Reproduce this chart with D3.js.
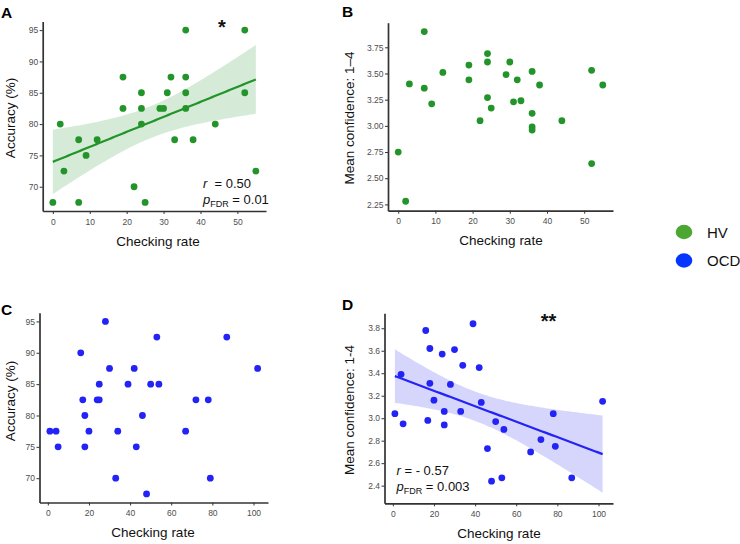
<!DOCTYPE html>
<html>
<head>
<meta charset="utf-8">
<script src="https://cdn.jsdelivr.net/npm/d3@7"></script>
<style>
  body { margin: 0; background: #fff; }
  svg { font-family: "Liberation Sans", Arial, sans-serif; }
</style>
</head>
<body>
<div id="plot"></div>
<script>

// HV group (28 subjects)
var hvRate = [0, 2, 3, 7, 7, 9, 12, 19, 19, 22, 24, 24, 24, 25, 29, 30, 31, 32, 33, 36, 36, 36, 36, 38, 44, 52, 52, 55];
var hvAccuracy = [67.5, 80, 72.5, 77.5, 67.5, 75, 77.5, 87.5, 82.5, 70, 85, 82.5, 80, 67.5, 82.5, 82.5, 85, 87.5, 77.5, 95, 87.5, 85, 82.5, 77.5, 80, 95, 85, 72.5];
var hvConfidence = [2.75, 2.28, 3.40, 3.90, 3.36, 3.21, 3.51, 3.58, 3.44, 3.05, 3.69, 3.61, 3.27, 3.17, 3.49, 3.61, 3.23, 3.44, 3.24, 3.52, 3.12, 2.99, 2.96, 3.39, 3.05, 3.53, 2.64, 3.39];

// OCD group (29 subjects)
var ocdRate = [1, 4, 5, 16, 17, 18, 18, 20, 24, 25, 25, 28, 30, 33, 34, 39, 42, 43, 46, 48, 50, 53, 54, 67, 72, 78, 79, 87, 102];
var ocdAccuracy = [77.5, 77.5, 75, 90, 82.5, 80, 75, 77.5, 82.5, 82.5, 85, 95, 87.5, 70, 77.5, 85, 87.5, 75, 80, 67.5, 85, 92.5, 85, 77.5, 82.5, 82.5, 70, 92.5, 87.5];
var ocdConfidence = [3.04, 3.39, 2.95, 3.78, 2.98, 3.31, 3.62, 3.16, 3.57, 3.06, 2.94, 3.30, 3.61, 3.06, 3.47, 3.84, 3.45, 3.14, 2.73, 2.44, 2.97, 2.47, 2.90, 2.70, 2.81, 3.04, 2.75, 2.47, 3.15];

var hvRateTicks = [0, 10, 20, 30, 40, 50];
var ocdRateTicks = [0, 20, 40, 60, 80, 100];
var accuracyTicks = [70, 75, 80, 85, 90, 95];
var hvConfTicks = [2.25, 2.50, 2.75, 3.00, 3.25, 3.50, 3.75];
var ocdConfTicks = [2.4, 2.6, 2.8, 3.0, 3.2, 3.4, 3.6, 3.8];

var groupNames = ["HV", "OCD"];
var groupColors = ["#4ca632", "#0535ff"];

var green = "#22942a";
var blue = "#2323f5";

var svg = d3.select("#plot")
    .append("svg")
    .attr("width", 740)
    .attr("height", 544);

var panels = [
    {
        letter: "A", lx: 1, ly: 18,
        xs: hvRate, ys: hvAccuracy, color: green,
        xDomain: [-2.75, 57.75], xRange: [42.7, 266],
        yDomain: [66.125, 96.375], yRange: [211, 21.5],
        xTicks: hvRateTicks, yTicks: accuracyTicks, yFmt: d3.format("d"),
        yTitle: "Accuracy (%)", yTitleX: 15, yTitleY: 118,
        xTitleX: 158, xTitleY: 246,
        fit: true, star: "*", starX: 222, starY: 34,
        rText: "r  = 0.50", pText: "0.01", annX: 203, annY: 188
    },
    {
        letter: "B", lx: 342, ly: 17,
        xs: hvRate, ys: hvConfidence, color: green,
        xDomain: [-2.75, 57.75], xRange: [388, 613],
        yDomain: [2.19, 3.985], yRange: [210.7, 22.7],
        xTicks: hvRateTicks, yTicks: hvConfTicks, yFmt: d3.format(".2f"),
        yTitle: "Mean confidence: 1\u20134", yTitleX: 354, yTitleY: 118,
        xTitleX: 501, xTitleY: 245,
        fit: false
    },
    {
        letter: "C", lx: 1, ly: 315,
        xs: ocdRate, ys: ocdAccuracy, color: blue,
        xDomain: [-4.05, 107.05], xRange: [39.5, 268],
        yDomain: [66.125, 96.375], yRange: [502.5, 312.8],
        xTicks: ocdRateTicks, yTicks: accuracyTicks, yFmt: d3.format("d"),
        yTitle: "Accuracy (%)", yTitleX: 15, yTitleY: 401,
        xTitleX: 153, xTitleY: 537,
        fit: false
    },
    {
        letter: "D", lx: 342, ly: 310,
        xs: ocdRate, ys: ocdConfidence, color: blue,
        xDomain: [-4.05, 107.05], xRange: [384.5, 613],
        yDomain: [2.243, 3.933], yRange: [503.3, 313.3],
        xTicks: ocdRateTicks, yTicks: ocdConfTicks, yFmt: d3.format(".1f"),
        yTitle: "Mean confidence: 1-4", yTitleX: 354, yTitleY: 410,
        xTitleX: 499, xTitleY: 538,
        fit: true, star: "**", starX: 548.5, starY: 327.5,
        rText: "r = - 0.57", pText: "0.003", annX: 396.5, annY: 475
    }
];

panels.forEach(p => buildPanel(p));

buildLegend();

function linearFit(xs, ys){

    let n = xs.length;
    let mx = d3.mean(xs);
    let my = d3.mean(ys);
    let sxx = d3.sum(xs, d => (d - mx) * (d - mx));
    let sxy = d3.sum(xs.map((d, i) => (d - mx) * (ys[i] - my)));
    let slope = sxy / sxx;
    let intercept = my - slope * mx;
    let sse = d3.sum(xs.map((d, i) => Math.pow(ys[i] - (intercept + slope * d), 2)));
    let s = Math.sqrt(sse / (n - 2));

    // two-sided 95% t quantile for df = 26 / 27
    let tCrit = n - 2 == 26 ? 2.0555 : 2.0518;

    let x0 = d3.min(xs), x1 = d3.max(xs);
    let pts = d3.range(80).map(i => {

        let x = x0 + (x1 - x0) * i / 79;
        let fit = intercept + slope * x;
        let se = s * Math.sqrt(1 / n + (x - mx) * (x - mx) / sxx);

        return {x: x, y: fit, lo: fit - tCrit * se, hi: fit + tCrit * se};

    });

    return pts;

}

function buildPanel(p){

    var xScale = d3.scaleLinear().domain(p.xDomain).range(p.xRange);
    var yScale = d3.scaleLinear().domain(p.yDomain).range(p.yRange);

    var g = svg.append("g");

    if(p.fit){

        let pts = linearFit(p.xs, p.ys);

        g.append("path")
            .datum(pts)
            .attr("d", d3.area().x(d => xScale(d.x)).y0(d => yScale(d.lo)).y1(d => yScale(d.hi)))
            .style("fill", p.color)
            .style("opacity", 0.19);

    }

    g.append("g")
        .selectAll("circle")
        .data(p.xs.map((d, i) => ({x: d, y: p.ys[i]})))
        .enter()
        .append("circle")
        .attr("cx", d => xScale(d.x))
        .attr("cy", d => yScale(d.y))
        .attr("r", 3.4)
        .style("fill", p.color);

    if(p.fit){

        let pts = linearFit(p.xs, p.ys);

        g.append("path")
            .datum(pts)
            .attr("d", d3.line().x(d => xScale(d.x)).y(d => yScale(d.y)))
            .style("fill", "none")
            .style("stroke", p.color)
            .style("stroke-width", 2.2);

    }

    // axes
    var xAxis = g.append("g")
        .attr("transform", "translate(0," + p.yRange[0] + ")")
        .call(d3.axisBottom(xScale).tickValues(p.xTicks).tickSize(3).tickSizeOuter(0));

    var yAxis = g.append("g")
        .attr("transform", "translate(" + p.xRange[0] + ",0)")
        .call(d3.axisLeft(yScale).tickValues(p.yTicks).tickFormat(p.yFmt).tickSize(3).tickSizeOuter(0));

    [xAxis, yAxis].forEach(a => {

        a.select(".domain").style("stroke", "#333").style("stroke-width", 1.7);
        a.selectAll(".tick line").style("stroke", "#333");
        a.selectAll(".tick text")
            .style("font-family", "'Liberation Sans', Arial, sans-serif")
            .style("font-size", "8.5px")
            .style("fill", "#4d4d4d");

    });

    xAxis.selectAll(".tick text").attr("dy", "0.9em");
    yAxis.selectAll(".tick text").attr("x", -4.5);

    // titles
    g.append("text")
        .attr("x", p.xTitleX)
        .attr("y", p.xTitleY)
        .attr("text-anchor", "middle")
        .style("font-size", "13.5px")
        .style("fill", "#111")
        .text("Checking rate");

    g.append("text")
        .attr("transform", "translate(" + p.yTitleX + "," + p.yTitleY + ") rotate(-90)")
        .attr("text-anchor", "middle")
        .style("font-size", "13.5px")
        .style("fill", "#111")
        .text(p.yTitle);

    g.append("text")
        .attr("x", p.lx)
        .attr("y", p.ly)
        .style("font-size", "15.5px")
        .style("font-weight", "bold")
        .style("fill", "#000")
        .text(p.letter);

    if(p.star){

        g.append("text")
            .attr("x", p.starX)
            .attr("y", p.starY)
            .attr("text-anchor", "middle")
            .style("font-size", "20px")
            .style("font-weight", "bold")
            .style("fill", "#111")
            .text(p.star);

    }

    if(p.rText){

        let t1 = g.append("text")
            .attr("x", p.annX)
            .attr("y", p.annY)
            .attr("xml:space", "preserve")
            .style("white-space", "pre")
            .style("font-size", "13px")
            .style("fill", "#111");

        t1.append("tspan").style("font-style", "italic").text("r");
        t1.append("tspan").text(p.rText.slice(1));

        let t2 = g.append("text")
            .attr("x", p.annX)
            .attr("y", p.annY + 15.5)
            .attr("xml:space", "preserve")
            .style("white-space", "pre")
            .style("font-size", "13px")
            .style("fill", "#111");

        t2.append("tspan").style("font-style", "italic").text("p");
        t2.append("tspan").attr("dy", 3).style("font-size", "9px").text("FDR");
        t2.append("tspan").attr("dy", -3).text(" = " + p.pText);

    }

}

function buildLegend(){

    var lg = svg.append("g");

    groupNames.forEach((name, i) => {

        lg.append("ellipse")
            .attr("cx", 684)
            .attr("cy", 232 + i * 28.5)
            .attr("rx", 8.3)
            .attr("ry", 7.2)
            .style("fill", groupColors[i]);

        lg.append("text")
            .attr("x", 707)
            .attr("y", 237.5 + i * 28.5)
            .style("font-size", "15px")
            .style("fill", "#111")
            .text(name);

    });

}

</script>
</body>
</html>
